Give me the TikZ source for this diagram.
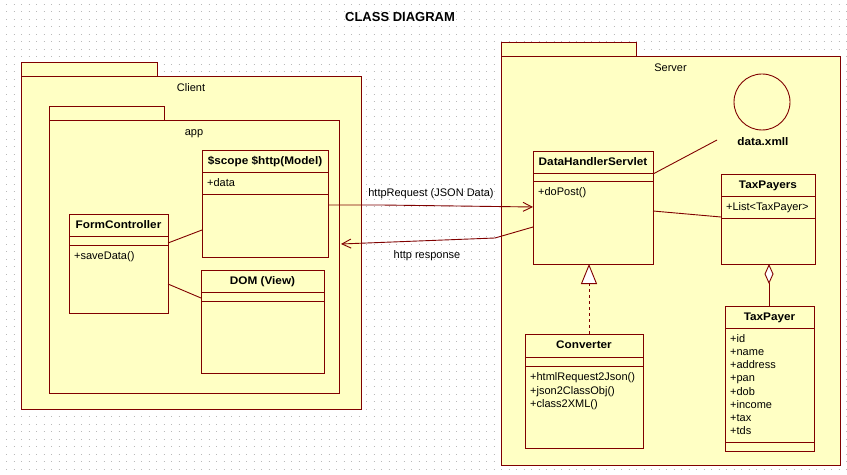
\documentclass[tikz,border=0pt]{standalone}
\usepackage{fontspec}
\setmainfont{Liberation Sans}
\newfontfamily\widebold[FakeStretch=1.07]{Liberation Sans}
\usetikzlibrary{arrows.meta,calc}
\definecolor{umlline}{RGB}{128,0,0}
\definecolor{umlfill}{RGB}{255,255,196}
\definecolor{griddot}{RGB}{185,185,185}
\newcommand\umlbox[5]{\node[box,minimum width=#4bp,minimum height=#5bp] (#1) at (#2,#3) {};}
\newcommand\umlcomp[2]{\draw[ln] ($(#1.north west)+(0,#2)$) -- ($(#1.north east)+(0,#2)$);}
\begin{document}
\begin{tikzpicture}[x=1bp,y=-1bp,
  ln/.style={draw=umlline,line width=0.9bp},
  box/.style={ln,fill=umlfill,rectangle,anchor=north west,inner sep=0,outer sep=0},
  ttl/.style={anchor=base,inner sep=0,font=\fontsize{11bp}{13bp}\widebold\bfseries},
  txt/.style={anchor=base west,inner sep=0,font=\fontsize{11bp}{13bp}\selectfont},
  ctxt/.style={anchor=base,inner sep=0,font=\fontsize{11bp}{13bp}\selectfont},
  openarrow/.style={ln,-{Straight Barb[length=9bp,width=9bp]}},
  realize/.style={ln,dash pattern=on 3bp off 3bp,-{Triangle[open,fill=white,length=20bp,width=16bp]}},
  aggr/.style={ln,-{Diamond[open,fill=white,length=20bp,width=9bp]}},
  dotrow/.style={draw=griddot,line width=1bp,dash pattern=on 1bp off 6.5bp}]
\useasboundingbox (0,0) rectangle (847,475);
\fill[white] (0,0) rectangle (847,475);
\foreach \k in {0,...,62} \draw[dotrow] (6.2,{4.2+7.5*\k}) -- (847,{4.2+7.5*\k});

\node[anchor=base,inner sep=0,font=\fontsize{13bp}{15bp}\selectfont\bfseries] (title) at (400,22) {CLASS DIAGRAM};

% Client package
\umlbox{clienttab}{21}{62}{136}{14}
\umlbox{client}{21}{76}{340}{333}
\node[ctxt] (clientlbl) at ($(client.north)+(0,16)$) {Client};
% app package
\umlbox{apptab}{49}{106}{115}{14}
\umlbox{app}{49}{120}{290}{273}
\node[ctxt] (applbl) at ($(app.north)+(0,16)$) {app};

% Model
\umlbox{model}{202}{150}{126}{107}
\umlcomp{model}{22}\umlcomp{model}{44}
\node[ttl] (model-t) at ($(model.north)+(0,15)$) {\$scope \$http(Model)};
\node[txt] (model-a) at ($(model.north west)+(5,37)$) {+data};
% FormController
\umlbox{fc}{69}{214}{99}{99}
\umlcomp{fc}{22}\umlcomp{fc}{31}
\node[ttl] (fc-t) at ($(fc.north)+(0,15)$) {FormController};
\node[txt] (fc-m) at ($(fc.north west)+(5,46)$) {+saveData()};
% DOM
\umlbox{dom}{201}{270}{123}{103}
\umlcomp{dom}{22}\umlcomp{dom}{31}
\node[ttl] (dom-t) at ($(dom.north)+(0,15)$) {DOM (View)};

% Server package
\umlbox{servertab}{501}{42}{135}{14}
\umlbox{server}{501}{56}{339}{409}
\node[ctxt] (serverlbl) at ($(server.north)+(0,16)$) {Server};

% data.xmll
\node[ln,circle,minimum size=56bp,inner sep=0] (data) at (762,102) {};
\node[ttl] (datalbl) at (763,146) {data.xmll};
\coordinate (dataend) at (717,140);

% DataHandlerServlet
\umlbox{dhs}{533}{151}{120}{113}
\umlcomp{dhs}{22}\umlcomp{dhs}{30}
\node[ttl] (dhs-t) at ($(dhs.north)+(0,15)$) {DataHandlerServlet};
\node[txt] (dhs-m) at ($(dhs.north west)+(5,45)$) {+doPost()};

% TaxPayers
\umlbox{tps}{721}{174}{94}{90}
\umlcomp{tps}{22}\umlcomp{tps}{44}
\node[ttl] (tps-t) at ($(tps.north)+(0,15)$) {TaxPayers};
\node[txt] (tps-a) at ($(tps.north west)+(5,37)$) {+List<TaxPayer>};

% Converter
\umlbox{conv}{525}{334}{118}{114}
\umlcomp{conv}{23}\umlcomp{conv}{32}
\node[ttl] (conv-t) at ($(conv.north)+(0,15)$) {Converter};
\node[txt] (conv-m1) at ($(conv.north west)+(5,47)$) {+htmlRequest2Json()};
\node[txt] (conv-m2) at ($(conv.north west)+(5,60)$) {+json2ClassObj()};
\node[txt] (conv-m3) at ($(conv.north west)+(5,73)$) {+class2XML()};

% TaxPayer
\umlbox{tp}{725}{306}{89}{145}
\umlcomp{tp}{22}\umlcomp{tp}{136}
\node[ttl] (tp-t) at ($(tp.north)+(0,15)$) {TaxPayer};
\foreach \a [count=\i from 0] in {id,name,address,pan,dob,income,tax,tds}
  \node[txt] (tp-a\i) at ($(tp.north west)+(5,{37+13*\i})$) {+\a};

% connectors
\draw[ln] ($(fc.north east)+(0,29)$) -- ($(model.north west)+(0,80)$);
\draw[ln] ($(fc.north east)+(0,70)$) -- ($(dom.north west)+(0,28)$);
\draw[ln] ($(dhs.north east)+(0,23)$) -- (dataend);
\draw[ln] ($(dhs.north east)+(0,60)$) -- ($(tps.north west)+(0,43)$);
\draw[openarrow] ($(model.north east)+(0,55)$) -- ++(53,0) -- ($(dhs.north west)+(0,56)$);
\coordinate (resbend) at (495,238);
\draw[openarrow] ($(dhs.north west)+(0,76)$) -- (resbend) -- ($(app.north east)+(2,124)$);
\node[ctxt] (reqlbl) at (431,197) {httpRequest (JSON Data)};
\node[ctxt] (reslbl) at (427,259) {http response};
\draw[realize] ($(conv.north west)+(64,0)$) -- ($(dhs.south west)+(56,0)$);
\draw[aggr] ($(tp.north west)+(44,0)$) -- ($(tps.south west)+(48,0)$);
\end{tikzpicture}
\end{document}
